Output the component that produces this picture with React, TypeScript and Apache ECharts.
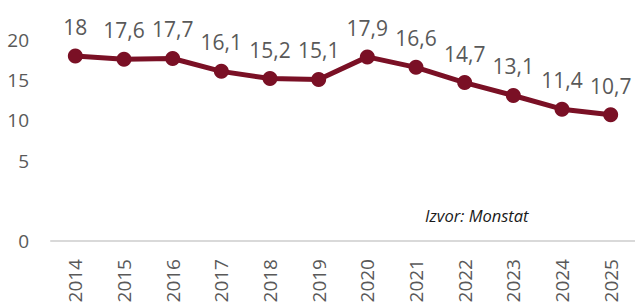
import React, { useEffect, useRef } from "react";
import * as echarts from "echarts";

const years = ["2014", "2015", "2016", "2017", "2018", "2019", "2020", "2021", "2022", "2023", "2024", "2025"];
const values = [18, 17.6, 17.7, 16.1, 15.2, 15.1, 17.9, 16.6, 14.7, 13.1, 11.4, 10.7];
const sourceText = "Izvor: Monstat";

const FONT = "'Open Sans', 'Noto Sans', sans-serif";

export default function App() {
  const ref = useRef<HTMLDivElement>(null);
  useEffect(() => {
    if (!ref.current) return;
    const chart = echarts.init(ref.current, null, { renderer: "svg" });
    chart.setOption({
      animation: false,
      backgroundColor: "#ffffff",
      grid: { left: 51, top: 40, width: 588, height: 201, containLabel: false },
      xAxis: {
        type: "category",
        data: years,
        boundaryGap: true,
        axisLine: { show: true, onZero: false, lineStyle: { color: "#d9d9d9", width: 2 } },
        axisTick: { show: false },
        axisLabel: {
          rotate: 90,
          margin: 18,
          fontSize: 19,
          color: "#595959",
          fontFamily: FONT,
        },
      },
      yAxis: {
        type: "value",
        min: -5,
        max: 20,
        interval: 5,
        axisLine: { show: false },
        axisTick: { show: false },
        splitLine: { show: false },
        axisLabel: {
          margin: 22,
          fontSize: 19,
          color: "#595959",
          fontFamily: FONT,
          formatter: (v: number) => (v === -5 ? "0" : v === 0 ? "" : String(v)),
        },
      },
      series: [
        {
          type: "line",
          data: values,
          symbol: "circle",
          symbolSize: 15,
          lineStyle: { color: "#7a1025", width: 5 },
          itemStyle: { color: "#7a1025" },
          label: {
            show: true,
            position: "top",
            distance: 11,
            fontSize: 21,
            color: "#595959",
            fontFamily: FONT,
            formatter: (p: any) => String(p.value).replace(".", ","),
          },
        },
      ],
      graphic: [
        {
          type: "text",
          left: 425,
          top: 207,
          style: {
            text: sourceText,
            fontSize: 16.5,
            fontStyle: "italic",
            fill: "#1a1a1a",
            fontFamily: FONT,
          },
        },
      ],
    });
    return () => chart.dispose();
  }, []);
  return (
    <div
      ref={ref}
      style={{ position: "absolute", left: 0, top: 0, width: 635, height: 306 }}
    />
  );
}
